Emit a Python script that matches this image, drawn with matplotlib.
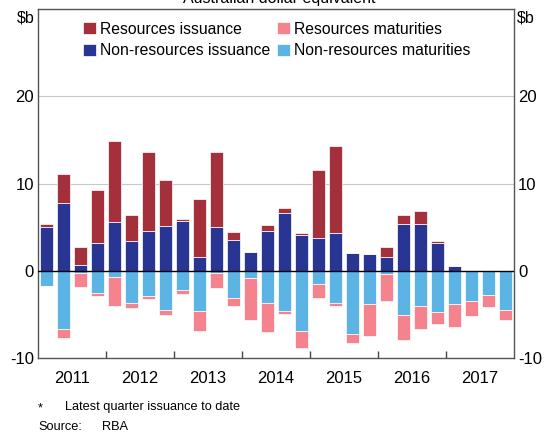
import matplotlib
matplotlib.use("Agg")
import matplotlib.pyplot as plt
import numpy as np

plt.rcParams['font.family'] = ['Liberation Sans', 'DejaVu Sans']

years = ['2011', '2012', '2013', '2014', '2015', '2016', '2017']
# quarterly, 2011 Q1 .. 2017 Q4
nonres_iss = [5.0, 7.8, 0.7, 3.2, 5.6, 3.45, 4.5, 5.1, 5.65, 1.6, 5.0, 3.5, 2.15, 4.5,
              6.6, 4.1, 3.7, 4.3, 2.05, 1.95, 1.6, 5.4, 5.4, 3.15, 0.5, 0.0, 0.0, 0.0]
res_iss = [0.35, 3.3, 2.05, 6.1, 9.3, 2.95, 9.1, 5.3, 0.3, 6.6, 8.6, 0.95, 0.0, 0.75,
           0.55, 0.25, 7.8, 10.0, 0.0, 0.0, 1.1, 1.0, 1.4, 0.3, 0.0, 0.0, 0.0, 0.0]
nonres_mat = [-1.75, -6.7, -0.3, -2.55, -0.7, -3.75, -2.9, -4.45, -2.25, -4.6, -0.3, -3.15, -0.8, -3.7,
              -4.6, -6.85, -1.55, -3.65, -7.25, -3.8, -0.35, -5.1, -4.05, -4.75, -3.85, -3.5, -2.75, -4.45]
res_mat = [0.0, -1.05, -1.6, -0.35, -3.3, -0.55, -0.35, -0.6, -0.45, -2.25, -1.65, -0.85, -4.85, -3.35,
           -0.4, -1.95, -1.6, -0.4, -1.0, -3.7, -3.1, -2.85, -2.6, -1.35, -2.65, -1.7, -1.4, -1.15]

c_res_iss = '#A3303A'
c_nonres_iss = '#283593'
c_res_mat = '#F4838E'
c_nonres_mat = '#5BB4E4'

fig = plt.figure(figsize=(5.5, 4.34), dpi=100)
W, H = 550, 434
ax_top, ax_bot = 9, 358
ax = fig.add_axes([38 / W, 1 - ax_bot / H, (514 - 38) / W, (ax_bot - ax_top) / H])

n = len(nonres_iss)
x = np.arange(n) + 0.5
w = 0.82
ekw = dict(edgecolor='white', linewidth=0.5, zorder=3)
nri = np.array(nonres_iss)
ri = np.array(res_iss)
nrm = np.array(nonres_mat)
rm = np.array(res_mat)
b1 = ax.bar(x, nri, w, color=c_nonres_iss, **ekw)
b2 = ax.bar(x, ri, w, bottom=nri, color=c_res_iss, **ekw)
b3 = ax.bar(x, nrm, w, color=c_nonres_mat, **ekw)
b4 = ax.bar(x, rm, w, bottom=nrm, color=c_res_mat, **ekw)

ax.set_xlim(0, n)
ax.set_ylim(-10, 30)
ax.axhline(0, color='black', linewidth=1, zorder=4)
for v in [10, 20]:
    ax.axhline(v, color='#C8C8C8', linewidth=0.8, zorder=1)

ax.set_yticks([-10, 0, 10, 20])
ax.set_yticklabels(['-10', '0', '10', '20'])
ax.tick_params(axis='y', direction='in', length=0, labelsize=12, left=True, right=True,
               labelleft=True, labelright=True, pad=3)

ax.set_xticks(np.arange(4, n, 4))
ax.set_xticklabels([])
ax.tick_params(axis='x', which='major', direction='in', length=5, width=1, color='#444444')
ax.set_xticks(np.arange(2, n + 1, 4), minor=True)
ax.set_xticklabels(years, minor=True)
ax.tick_params(axis='x', which='minor', length=0, labelsize=12, pad=9.5)

for s in ax.spines.values():
    s.set_color('#555555')
    s.set_linewidth(1)

fig.text(17 / W, 1 - 18 / H, '$b', fontsize=11.5, va='center', ha='left')
fig.text(517 / W, 1 - 18 / H, '$b', fontsize=11.5, va='center', ha='left')
fig.text(279 / W, 1 - 2.5 / H, 'Australian dollar equivalent', fontsize=11.5, ha='center', va='baseline')

leg = ax.legend([b2, b1, b4, b3],
                ['Resources issuance', 'Non-resources issuance', 'Resources maturities', 'Non-resources maturities'],
                ncol=2, frameon=False, fontsize=11.3, loc='upper left',
                bbox_to_anchor=((83 - 38) / (514 - 38), 1 - 12.5 / (ax_bot - ax_top)),
                handlelength=0.85, handleheight=0.8, handletextpad=0.25,
                columnspacing=0.4, labelspacing=0.42, borderaxespad=0, borderpad=0)

fig.text(38 / W, 1 - 408 / H, '*', fontsize=9.2, va='center', ha='left')
fig.text(65 / W, 1 - 407 / H, 'Latest quarter issuance to date', fontsize=9.2, va='center', ha='left')
fig.text(38 / W, 1 - 427 / H, 'Source:', fontsize=9.2, va='center', ha='left')
fig.text(102 / W, 1 - 427 / H, 'RBA', fontsize=9.2, va='center', ha='left')

fig.savefig('out.png', dpi=100)
